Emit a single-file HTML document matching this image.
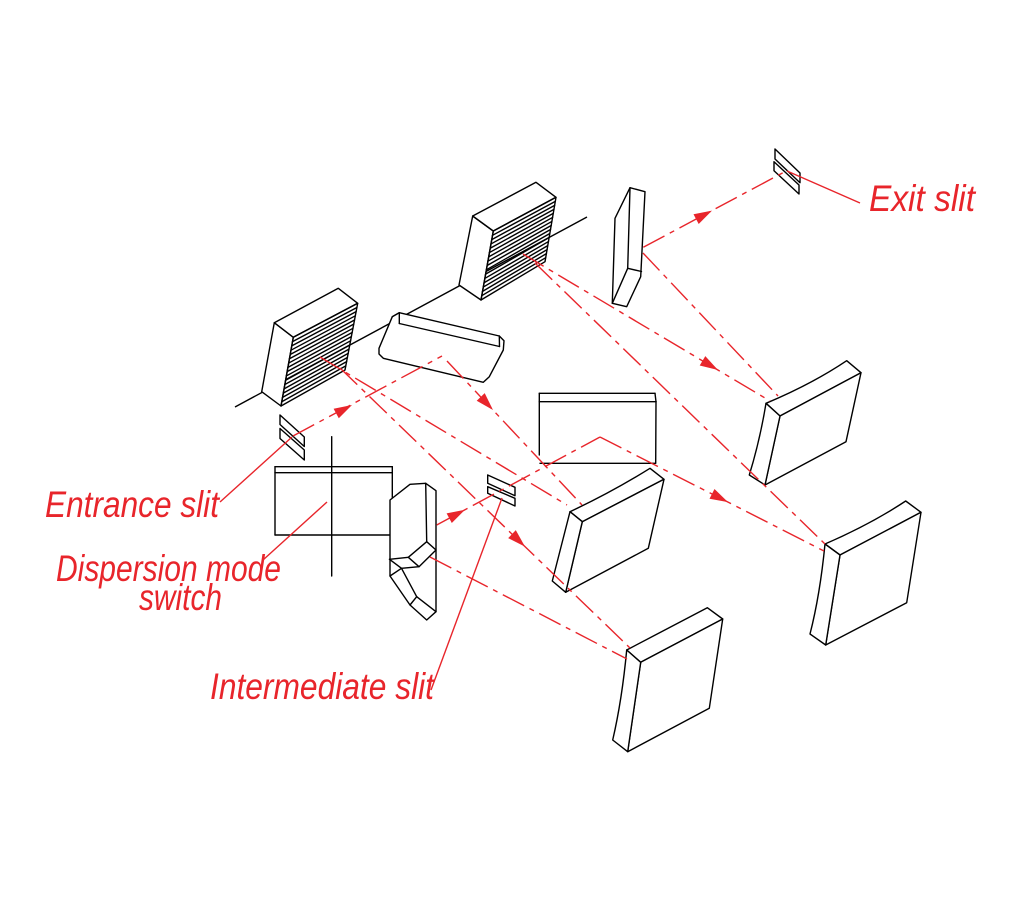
<!DOCTYPE html>
<html>
<head>
<meta charset="utf-8">
<style>
html,body{margin:0;padding:0;background:#fff;}
svg{display:block;}
text{font-family:"Liberation Sans",sans-serif;font-style:italic;fill:#e8252b;}
</style>
</head>
<body>
<svg width="1024" height="900" viewBox="0 0 1024 900" xmlns="http://www.w3.org/2000/svg">
<rect width="1024" height="900" fill="#fff"/>

<!-- axis -->
<line x1="235" y1="407" x2="587" y2="217" stroke="#000" stroke-width="1.4"/>

<g stroke="#000" stroke-width="1.4" fill="none" stroke-linejoin="round" stroke-linecap="round">
  <!-- Grating 1 -->
  <polygon points="274.3,322.7 293.3,337.3 281,406 261.7,391.7" fill="#fff"/>
  <polygon points="274.3,322.7 338.3,288.3 357.7,303.3 293.3,337.3" fill="#fff"/>
  <polygon points="293.3,337.3 357.7,303.3 345,370 281,406"/>
  <line x1="292.53" y1="341.59" x2="356.91" y2="307.47"/>
  <line x1="291.76" y1="345.89" x2="356.11" y2="311.64"/>
  <line x1="291.0" y1="350.18" x2="355.32" y2="315.81"/>
  <line x1="290.23" y1="354.48" x2="354.53" y2="319.98"/>
  <line x1="289.46" y1="358.77" x2="353.73" y2="324.14"/>
  <line x1="288.69" y1="363.06" x2="352.94" y2="328.31"/>
  <line x1="287.92" y1="367.36" x2="352.14" y2="332.48"/>
  <line x1="287.15" y1="371.65" x2="351.35" y2="336.65"/>
  <line x1="286.38" y1="375.94" x2="350.56" y2="340.82"/>
  <line x1="285.61" y1="380.24" x2="349.76" y2="344.99"/>
  <line x1="284.84" y1="384.53" x2="348.97" y2="349.16"/>
  <line x1="284.08" y1="388.83" x2="348.18" y2="353.33"/>
  <line x1="283.31" y1="393.12" x2="347.38" y2="357.49"/>
  <line x1="282.54" y1="397.41" x2="346.59" y2="361.66"/>
  <line x1="281.77" y1="401.71" x2="345.79" y2="365.83"/>

  <!-- Grating 2 -->
  <polygon points="472.7,216 493.3,231 481,300 459,285" fill="#fff"/>
  <polygon points="472.7,216 536,182.3 556,197.3 493.3,231" fill="#fff"/>
  <polygon points="493.3,231 556,197.3 545,261.7 481,300"/>
  <line x1="492.53" y1="235.31" x2="555.31" y2="201.33"/>
  <line x1="491.76" y1="239.63" x2="554.63" y2="205.35"/>
  <line x1="490.99" y1="243.94" x2="553.94" y2="209.38"/>
  <line x1="490.23" y1="248.25" x2="553.25" y2="213.4"/>
  <line x1="489.46" y1="252.56" x2="552.56" y2="217.43"/>
  <line x1="488.69" y1="256.88" x2="551.88" y2="221.45"/>
  <line x1="487.92" y1="261.19" x2="551.19" y2="225.48"/>
  <line x1="487.15" y1="265.5" x2="550.5" y2="229.5"/>
  <line x1="486.38" y1="269.81" x2="549.81" y2="233.53"/>
  <line x1="485.61" y1="274.13" x2="549.13" y2="237.55"/>
  <line x1="484.84" y1="278.44" x2="548.44" y2="241.58"/>
  <line x1="484.08" y1="282.75" x2="547.75" y2="245.6"/>
  <line x1="483.31" y1="287.06" x2="547.06" y2="249.63"/>
  <line x1="482.54" y1="291.38" x2="546.38" y2="253.65"/>
  <line x1="481.77" y1="295.69" x2="545.69" y2="257.68"/>

  <!-- Mirror 1 (rounded slab) -->
  <path d="M399.3,312.7 L499.3,336 L504,340.7 L503.3,350 L489.3,376.7 L483.3,382.3 L383.3,358.3 L379,354 L379,348.3 L392.3,316.7 Z" fill="#fff"/>
  <line x1="399.3" y1="312.7" x2="399.3" y2="323.5"/>
  <line x1="399.3" y1="323.5" x2="499.5" y2="346.5"/>
  <line x1="499.3" y1="336" x2="499.5" y2="346.5"/>
  <line x1="392.3" y1="316.7" x2="399.3" y2="312.7"/>

  <!-- Mirror 2 (thin tall) -->
  <path d="M630,187.7 L645,191.7 L640.7,276.7 L626.7,306.7 L612.3,303.3 L615,218.3 Z" fill="#fff"/>
  <line x1="630" y1="187.7" x2="627.7" y2="268.3"/>
  <line x1="627.7" y1="268.3" x2="641.5" y2="271.5"/>
  <line x1="627.7" y1="268.3" x2="612.3" y2="303.3"/>

  <!-- Entrance slit -->
  <polygon points="280,415 304.3,437 304.3,446.5 280,424.5"/>
  <polygon points="280,428.5 304.3,450 304.3,460 280,438.5"/>

  <!-- Intermediate slit -->
  <polygon points="487.7,475 515,487.3 515,495.7 487.7,483.3"/>
  <polygon points="487.7,486.7 515,498.3 515,506 487.7,493.3"/>

  <!-- Exit slit -->
  <polygon points="775,149 800,173 800,182.7 775,159"/>
  <polygon points="774,161.7 799,185 799,194 774,170.7"/>

  <!-- Dispersion mode switch rect -->
  <line x1="275" y1="466.7" x2="392.3" y2="466.7"/>
  <line x1="275" y1="472.7" x2="392.3" y2="472.7"/>
  <line x1="275" y1="466.7" x2="275" y2="535"/>
  <line x1="275" y1="535" x2="389.5" y2="535"/>
  <line x1="392.3" y1="466.7" x2="392.3" y2="498"/>
  <line x1="331.7" y1="436.7" x2="331.7" y2="576"/>

  <!-- Upper middle rect -->
  <line x1="539.3" y1="393.3" x2="655" y2="393.3"/>
  <line x1="539.3" y1="401.7" x2="656" y2="401.7"/>
  <line x1="539.3" y1="393.3" x2="539.3" y2="455"/>
  <line x1="540" y1="463.3" x2="655.5" y2="463.3"/>
  <line x1="655" y1="393.3" x2="656" y2="401.7"/>
  <line x1="656" y1="401.7" x2="655.7" y2="463.3"/>

  <!-- Prism -->
  <path d="M390,500 L410,484.3 L425.7,483.3 L436,490.7 L436,611.7 L426.7,620 L410,605 L390,576 Z" fill="#fff"/>
  <line x1="425.7" y1="483.3" x2="426.7" y2="541.7"/>
  <polygon points="408.3,557.3 426.7,541.7 436,550 419,566.7"/>
  <line x1="389.5" y1="559.3" x2="408.3" y2="557.3"/>
  <line x1="389.5" y1="559.3" x2="401.5" y2="568.3"/>
  <line x1="401.5" y1="568.3" x2="419" y2="566.7"/>
  <line x1="390" y1="576" x2="401.5" y2="568.3"/>
  <line x1="401.5" y1="568.3" x2="416.7" y2="596.7"/>
  <line x1="416.7" y1="596.7" x2="436" y2="611.7"/>
  <line x1="410" y1="605" x2="416.7" y2="596.7"/>

  <!-- Mirror A -->
  <path d="M570,511.7 Q612,492 650,468.3 L664,479.3 L582.3,521.7 Z" fill="#fff"/>
  <polygon points="582.3,521.7 664,479.3 648.3,548.3 565.7,592.3" fill="#fff"/>
  <polygon points="570,511.7 582.3,521.7 565.7,592.3 552.3,581" fill="#fff"/>

  <!-- Mirror B -->
  <path d="M766,403.3 Q812,384 846.7,360.7 L861,372.7 L780,416 Z" fill="#fff"/>
  <polygon points="780,416 861,372.7 846,441.7 765,485" fill="#fff"/>
  <path d="M766,403.3 L780,416 L765,485 L749.3,475 Q760,440 766,403.3 Z" fill="#fff"/>

  <!-- Mirror C -->
  <path d="M825,544 Q871,524 905.7,501 L921,512.3 L840,555 Z" fill="#fff"/>
  <polygon points="840,555 921,512.3 906.7,602.7 825.7,645" fill="#fff"/>
  <path d="M825,544 L840,555 L825.7,645 L810,634 Q820,595 825,544 Z" fill="#fff"/>

  <!-- Mirror D -->
  <polygon points="626.7,650 707.3,607.7 722.7,619 640.7,662.3" fill="#fff"/>
  <polygon points="640.7,662.3 722.7,619 709.3,708.3 627.7,751.7" fill="#fff"/>
  <path d="M626.7,650 L640.7,662.3 L627.7,751.7 L612.7,740 Q622,700 626.7,650 Z" fill="#fff"/>
</g>

<!-- red beams (dash-dot) -->
<g stroke="#e8252b" stroke-width="1.4" fill="none" stroke-dasharray="24 6 5 6">
  <line x1="293" y1="436" x2="442" y2="356"/>
  <line x1="447" y1="361" x2="582" y2="505"/>
  <line x1="320" y1="357" x2="567" y2="505"/>
  <line x1="340" y1="368" x2="630" y2="648"/>
  <line x1="430" y1="557" x2="627" y2="659"/>
  <line x1="436.7" y1="525" x2="600" y2="437"/>
  <line x1="600" y1="437" x2="824" y2="551"/>
  <line x1="535" y1="263" x2="825" y2="544"/>
  <line x1="523" y1="254" x2="770" y2="401"/>
  <line x1="643" y1="253" x2="778" y2="396"/>
  <line x1="643.3" y1="247.3" x2="786.7" y2="170.7"/>
</g>

<!-- red leaders (solid) -->
<g stroke="#e8252b" stroke-width="1.4" fill="none">
  <line x1="787" y1="171" x2="860" y2="203"/>
  <line x1="220" y1="502" x2="292" y2="437"/>
  <line x1="263" y1="560" x2="327" y2="502"/>
  <line x1="431" y1="690" x2="502" y2="498"/>
</g>

<!-- arrowheads -->
<g fill="#e8252b" stroke="none">
  <polygon points="352,405 338.8,418.3 333.6,408.7"/>
  <polygon points="493,410 476.7,400.7 484.7,393.1"/>
  <polygon points="525,546.6 508.2,538.1 515.8,530.1"/>
  <polygon points="465,509.7 451.8,523 446.6,513.4"/>
  <polygon points="728,502.1 709.5,498.8 714.5,489"/>
  <polygon points="718,370 699.7,365.5 705.3,356.1"/>
  <polygon points="712,210.6 698.7,224 693.5,214.3"/>
</g>

<!-- labels -->
<text x="869" y="211" font-size="37" textLength="106" lengthAdjust="spacingAndGlyphs">Exit slit</text>
<text x="45" y="517" font-size="37" textLength="174" lengthAdjust="spacingAndGlyphs">Entrance slit</text>
<text x="56" y="581" font-size="37" textLength="225" lengthAdjust="spacingAndGlyphs">Dispersion mode</text>
<text x="139" y="610" font-size="37" textLength="83" lengthAdjust="spacingAndGlyphs">switch</text>
<text x="210" y="699" font-size="37" textLength="224" lengthAdjust="spacingAndGlyphs">Intermediate slit</text>
</svg>
</body>
</html>
